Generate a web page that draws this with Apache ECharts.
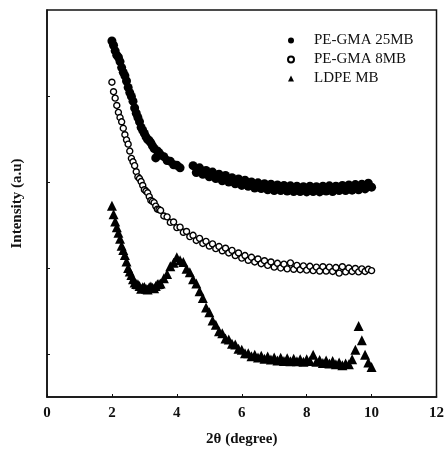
<!DOCTYPE html>
<html><head><meta charset="utf-8">
<script src="https://cdn.jsdelivr.net/npm/echarts@6/dist/echarts.min.js"></script>
<style>html,body{margin:0;padding:0;background:#fff}#c{width:447px;height:456px}</style>
</head><body><div id="c"></div>
<script>
const xValues = [2.00,2.05,2.10,2.15,2.20,2.25,2.30,2.35,2.40,2.45,2.50,2.55,2.60,2.65,2.70,2.75,2.80,2.85,2.90,2.95,3.00,3.05,3.10,3.15,3.20,3.25,3.30,3.35,3.40,3.45,3.50,
  3.6,3.7,3.8,3.9,4.0,4.1,4.2,4.3,4.4,4.5,4.6,4.7,4.8,4.9,5.0,5.1,5.2,5.3,5.4,5.5,5.6,5.7,5.8,5.9,6.0,6.1,6.2,6.3,6.4,6.5,6.6,6.7,6.8,6.9,7.0,7.1,7.2,7.3,7.4,7.5,7.6,7.7,7.8,7.9,8.0,8.1,8.2,8.3,8.4,8.5,8.6,8.7,8.8,8.9,9.0,9.1,9.2,9.3,9.4,9.5,9.6,9.7,9.8,9.9,10.0];
const peGma25 = [8.28,8.18,8.05,7.95,7.90,7.80,7.66,7.55,7.47,7.35,7.20,7.08,6.99,6.88,6.72,6.60,6.50,6.40,6.27,6.20,6.13,6.05,5.99,5.96,5.91,5.84,5.78,5.56,5.72,5.68,5.63,
  5.59,5.50,5.48,5.40,5.39,5.33,null,null,null,5.38,5.22,5.33,5.18,5.27,5.12,5.23,5.08,5.18,5.03,5.15,5.00,5.10,4.96,5.07,4.92,5.04,4.90,5.00,4.86,4.98,4.85,4.96,4.82,4.95,4.80,4.93,4.80,4.92,4.79,4.91,4.78,4.90,4.78,4.89,4.77,4.90,4.78,4.89,4.77,4.90,4.79,4.91,4.78,4.90,4.80,4.92,4.80,4.93,4.81,4.94,4.82,4.95,4.84,4.97,4.88];
const peGma8 = [7.32,7.10,6.95,6.78,6.62,6.50,6.40,6.25,6.10,5.98,5.88,5.72,5.55,5.47,5.38,5.24,5.12,5.08,5.01,4.92,4.82,4.79,4.75,4.66,4.57,4.55,4.52,4.44,4.37,4.36,4.34,
  4.21,4.19,4.06,4.07,3.94,3.95,3.83,3.85,3.73,3.76,3.64,3.69,3.57,3.62,3.51,3.56,3.45,3.50,3.40,3.46,3.35,3.41,3.29,3.35,3.23,3.29,3.18,3.25,3.14,3.21,3.10,3.17,3.06,3.14,3.02,3.11,3.00,3.09,2.98,3.12,2.97,3.06,2.96,3.05,2.95,3.04,2.94,3.02,2.93,3.03,2.93,3.02,2.92,3.01,2.88,3.03,2.91,3.00,2.92,2.99,2.91,2.98,2.92,2.97,2.94];
const ldpe = [4.45,4.25,4.08,3.95,3.82,3.68,3.52,3.42,3.30,3.15,3.00,2.92,2.84,2.74,2.66,2.63,2.62,2.58,2.52,2.55,2.56,2.52,2.50,2.55,2.57,2.54,2.53,2.58,2.62,2.63,2.64,
  2.76,2.86,3.04,3.12,3.25,3.18,3.14,2.98,2.90,2.74,2.64,2.46,2.30,2.08,1.97,1.78,1.68,1.53,1.48,1.36,1.34,1.24,1.22,1.12,1.10,1.02,1.02,0.95,0.98,0.92,0.96,0.89,0.94,0.87,0.92,0.85,0.91,0.84,0.90,0.83,0.89,0.83,0.88,0.82,0.88,0.84,0.98,0.82,0.86,0.79,0.85,0.78,0.84,0.76,0.80,0.74,0.78,0.76,0.88,1.10,1.65,1.32,0.98,0.80,0.70];
const seriesNames = ['PE-GMA 25MB','PE-GMA 8MB','LDPE MB'];
const yTickValues = [1,3,5,7];

const pairs = ys => xValues.map((x,i)=>[x, ys[i]]);
const serif = '"Liberation Serif","DejaVu Serif",serif';

const chart = echarts.init(document.getElementById('c'), null, {renderer:'canvas'});
chart.setOption({
  animation:false,
  backgroundColor:'#fff',
  grid:{left:47,right:10,top:10,bottom:59,show:true,borderColor:'#111',borderWidth:1.5,backgroundColor:'transparent'},
  legend:{
    orient:'vertical', left:282, top:28, itemGap:4, itemWidth:6, itemHeight:6,
    textStyle:{fontFamily:serif,fontSize:15,color:'#111',padding:[0,0,0,15],lineHeight:15},
    data:seriesNames
  },
  xAxis:{
    type:'value', min:0, max:12, interval:2,
    name:'2θ (degree)', nameLocation:'middle', nameGap:35,
    nameTextStyle:{fontFamily:serif,fontSize:15,fontWeight:'bold',color:'#111'},
    axisLine:{lineStyle:{color:'#111',width:1.5}},
    axisTick:{inside:true,length:3,lineStyle:{color:'#111'}},
    axisLabel:{fontFamily:serif,fontSize:15,fontWeight:'bold',color:'#111',margin:9},
    splitLine:{show:false}
  },
  yAxis:{
    type:'value', min:0, max:9,
    name:'Intensity (a.u)', nameLocation:'middle', nameGap:22,
    nameTextStyle:{fontFamily:serif,fontSize:15,fontWeight:'bold',color:'#111'},
    axisLine:{lineStyle:{color:'#111',width:1.5}},
    axisTick:{inside:true,length:3,customValues:yTickValues,lineStyle:{color:'#111'}},
    axisLabel:{show:false},
    splitLine:{show:false}
  },
  series:[
    {name:seriesNames[0],type:'scatter',symbol:'circle',symbolSize:9,
     itemStyle:{color:'#000',opacity:1},data:pairs(peGma25)},
    {name:seriesNames[1],type:'scatter',symbol:'circle',symbolSize:6,
     itemStyle:{color:'#fff',borderColor:'#000',borderWidth:1.4,opacity:1},data:pairs(peGma8)},
    {name:seriesNames[2],type:'scatter',symbol:'triangle',symbolSize:10,
     itemStyle:{color:'#000',opacity:1},data:pairs(ldpe)}
  ]
});
</script></body></html>
